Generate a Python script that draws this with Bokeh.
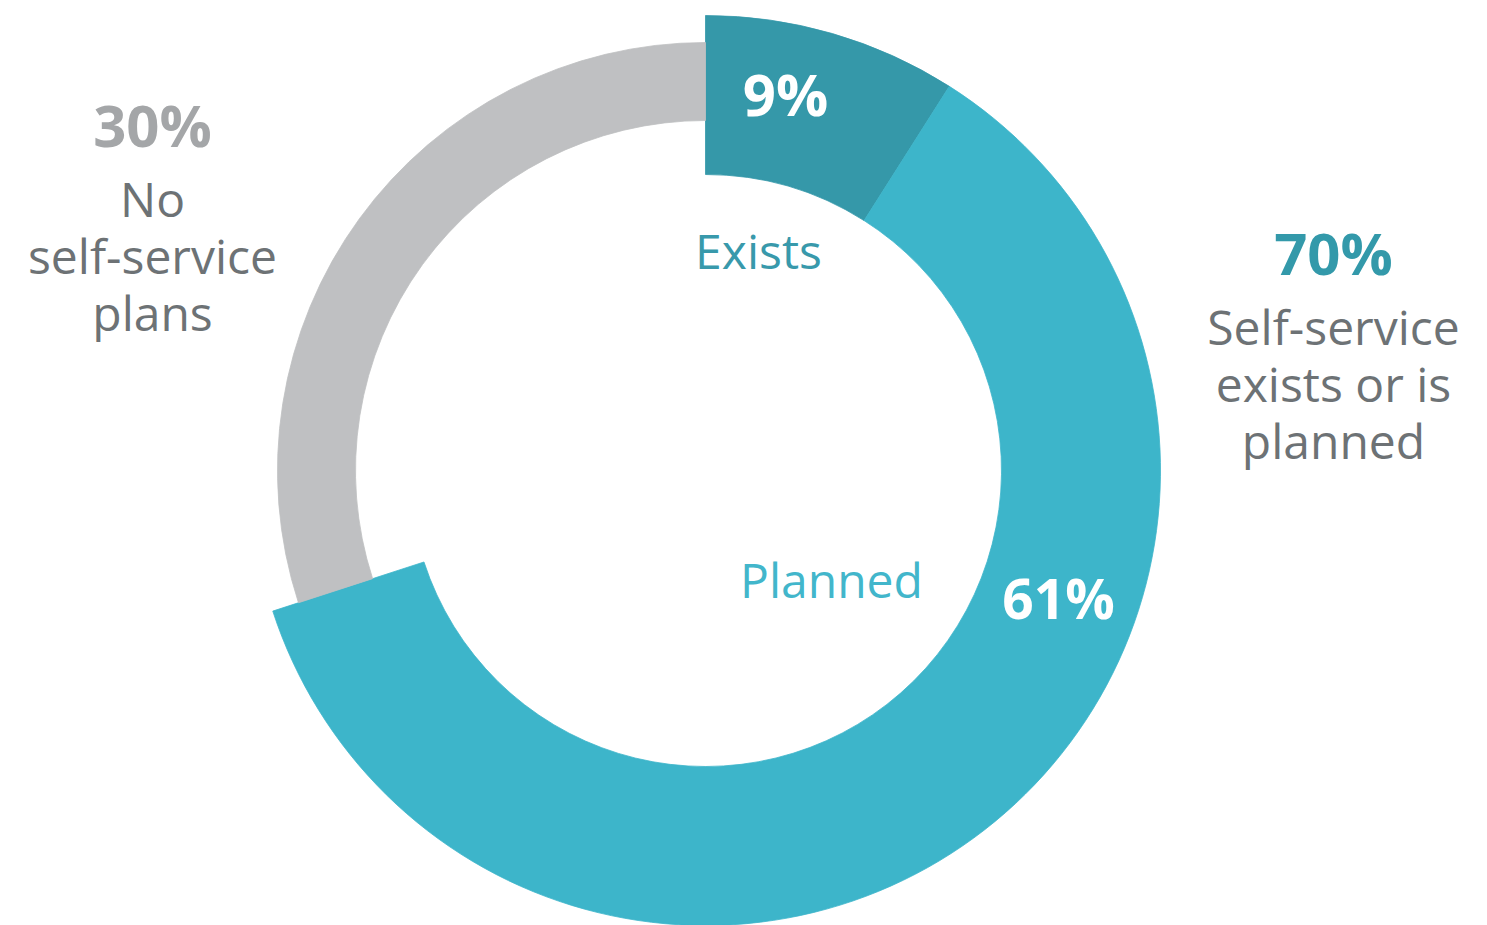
import numpy as np
import pandas as pd
from bokeh.plotting import figure
from bokeh.models import ColumnDataSource, Range1d
from bokeh.embed import file_html
from bokeh.resources import INLINE
from bokeh.core.properties import value

# ---------------- data ----------------
segments = ["Exists", "Planned", "No plans"]
shares = [9, 61, 30]
share_labels = ["9%", "61%", "30%"]

group_labels = ["70%", "30%"]
group_lines = [["Self-service", "exists or is", "planned"],
               ["No", "self-service", "plans"]]
inner_names = ["Exists", "Planned"]

# ---------------- layout / style ----------------
W, H = 1487, 925
CX, CY = 705, H - 470          # ring centre (data units == pixels)
ring_inner = [296, 296, 350]
ring_outer = [455, 455, 428]
seg_colors = ["#3598a9", "#3db5ca", "#bfc0c2"]

FONT = value("Open Sans")

frac = np.array(shares, dtype=float) / np.sum(shares)
cum_end = np.cumsum(frac)
cum_start = cum_end - frac
df = pd.DataFrame({
    "segment": segments,
    "start": np.pi / 2 - 2 * np.pi * cum_start,
    "end": np.pi / 2 - 2 * np.pi * cum_end,
    "inner": ring_inner,
    "outer": ring_outer,
    "color": seg_colors,
})
src = ColumnDataSource(df)

p = figure(width=W, height=H, output_backend="svg", toolbar_location=None,
           x_range=Range1d(0, W), y_range=Range1d(0, H), min_border=0)
p.axis.visible = False
p.grid.visible = False
p.outline_line_color = None
p.background_fill_color = "white"
p.border_fill_color = "white"

p.annular_wedge(x=CX, y=CY, inner_radius="inner", outer_radius="outer",
                start_angle="start", end_angle="end", direction="clock",
                fill_color="color", line_color="color", line_width=0.8,
                source=src)

# share labels on the ring
p.text(x=[785, 1058], y=[H - 93, H - 597], text=share_labels[:2],
       text_font=FONT, text_font_style="bold", text_font_size=["58px", "55px"],
       text_color="white", text_align="center", text_baseline="middle")

# names inside the hole
p.text(x=[758, 831], y=[H - 250, H - 579], text=inner_names,
       text_font=FONT, text_font_size="48px",
       text_color=["#3899ab", "#42b6cb"], text_align="center",
       text_baseline="middle")

# group totals
p.text(x=[1333, 152], y=[H - 252, H - 124], text=group_labels,
       text_font=FONT, text_font_style="bold", text_font_size="58px",
       text_color=["#3399aa", "#a4a6a8"], text_align="center",
       text_baseline="middle")

# group descriptions (one glyph per line)
desc_x = [1333, 152]
desc_top = [326, 198]
line_step = 57
xs, ys, ts = [], [], []
for gx, gy, lines in zip(desc_x, desc_top, group_lines):
    for i, t in enumerate(lines):
        xs.append(gx)
        ys.append(H - (gy + i * line_step))
        ts.append(t)
p.text(x=xs, y=ys, text=ts,
       text_font=FONT, text_font_size="48px",
       text_color="#6d7275", text_align="center", text_baseline="middle")

open("out.html", "w").write(file_html(p, INLINE))
